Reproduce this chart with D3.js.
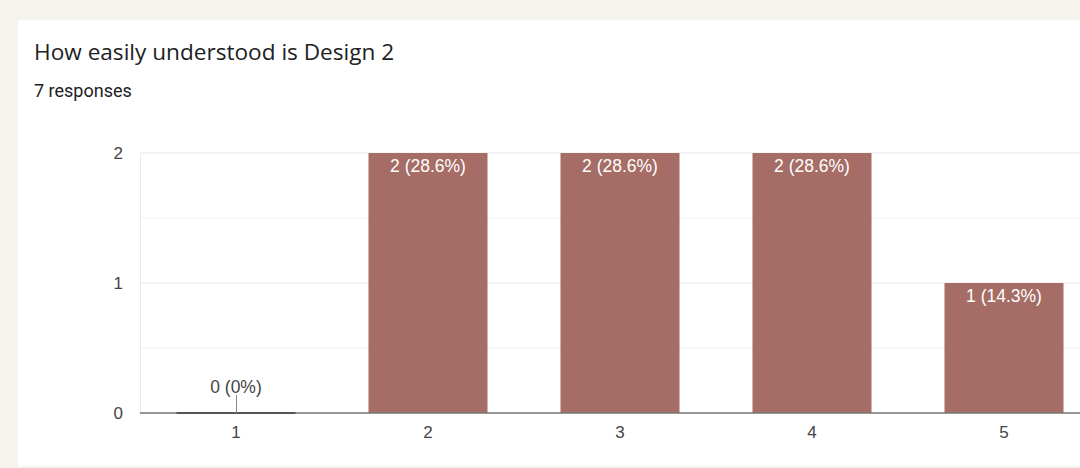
<!DOCTYPE html>
<html>
<head>
<meta charset="utf-8">
<script src="https://cdn.jsdelivr.net/npm/d3@7"></script>
<style>
  html, body { margin: 0; padding: 0; background: #f5f3ee; }
  svg { display: block; }
</style>
</head>
<body>
<svg id="chart" width="1080" height="468"></svg>
<script>
// Survey question: how easily understood is Design 2 (scale 1–5)
const title = "How easily understood is Design 2";
const subtitle = "7 responses";
const categories = ["1", "2", "3", "4", "5"];
const counts = [0, 2, 2, 2, 1];
const yTicks = [0, 1, 2];
const totalResponses = 7;

const svg = d3.select("#chart");

// White card
svg.append("rect")
  .attr("x", 18).attr("y", 20)
  .attr("width", 1100).attr("height", 446)
  .attr("fill", "#ffffff");

svg.append("text")
  .attr("x", 34).attr("y", 60)
  .attr("font-family", "'Open Sans', Roboto, sans-serif")
  .attr("font-size", 22.6)
  .attr("fill", "#202124")
  .text(title);

svg.append("text")
  .attr("x", 34).attr("y", 97)
  .attr("font-family", "Roboto, sans-serif")
  .attr("font-size", 18)
  .attr("fill", "#202124")
  .text(subtitle);

const x = d3.scaleBand()
  .domain(categories)
  .range([140, 1100])
  .paddingInner(0.38)
  .paddingOuter(0.19);

const y = d3.scaleLinear()
  .domain([0, 2])
  .range([413, 153]);

const font = "'Liberation Sans', Arial, sans-serif";

// Gridlines every half unit
const grid = d3.range(0, 2.01, 0.5);
svg.append("g").selectAll("line")
  .data(grid)
  .join("line")
  .attr("x1", 140).attr("x2", 1100)
  .attr("y1", d => y(d)).attr("y2", d => y(d))
  .attr("stroke", d => Number.isInteger(d) ? "#e8e8e8" : "#f1f1f1")
  .attr("stroke-width", 1);

// Left plot edge
svg.append("line")
  .attr("x1", 140.5).attr("x2", 140.5)
  .attr("y1", y(2)).attr("y2", y(0))
  .attr("stroke", "#ebebeb");

// Y axis labels
const yAxis = d3.axisLeft(y).tickValues(yTicks).tickFormat(d3.format("d")).tickSize(0).tickPadding(17);
svg.append("g")
  .attr("transform", "translate(140,0)")
  .call(yAxis)
  .call(g => g.select(".domain").remove())
  .selectAll("text")
  .attr("font-family", font)
  .attr("font-size", 17)
  .attr("fill", "#444");

// Bars
const color = "#a56d65";
svg.append("g").selectAll("rect")
  .data(counts)
  .join("rect")
  .attr("x", (d, i) => x(categories[i]))
  .attr("y", d => y(d))
  .attr("width", x.bandwidth())
  .attr("height", d => y(0) - y(d))
  .attr("fill", color);

// Baseline
svg.append("line")
  .attr("x1", 140).attr("x2", 1100)
  .attr("y1", y(0)).attr("y2", y(0))
  .attr("stroke", "#777")
  .attr("stroke-width", 1.5);

// Zero-height bars: darker stub on the baseline
counts.forEach((d, i) => {
  if (d === 0) {
    svg.append("line")
      .attr("x1", x(categories[i])).attr("x2", x(categories[i]) + x.bandwidth())
      .attr("y1", y(0)).attr("y2", y(0))
      .attr("stroke", "#555")
      .attr("stroke-width", 2);
  }
});

// X axis labels
const xAxis = d3.axisBottom(x).tickSize(0).tickPadding(13);
svg.append("g")
  .attr("transform", `translate(0,${y(0)})`)
  .call(xAxis)
  .call(g => g.select(".domain").remove())
  .selectAll("text")
  .attr("font-family", font)
  .attr("font-size", 17)
  .attr("fill", "#444");

// Value labels
const pct = d => `${d} (${d3.format(".1~f")(d / totalResponses * 100)}%)`;
counts.forEach((d, i) => {
  const cx = x(categories[i]) + x.bandwidth() / 2;
  if (d > 0) {
    svg.append("text")
      .attr("x", cx).attr("y", y(d) + 19)
      .attr("text-anchor", "middle")
      .attr("font-family", font)
      .attr("font-size", 17.5)
      .attr("fill", "#ffffff")
      .text(pct(d));
  } else {
    svg.append("line")
      .attr("x1", cx + 0.5).attr("x2", cx + 0.5)
      .attr("y1", y(0) - 18).attr("y2", y(0))
      .attr("stroke", "#888");
    svg.append("text")
      .attr("x", cx).attr("y", y(0) - 20)
      .attr("text-anchor", "middle")
      .attr("font-family", font)
      .attr("font-size", 17.5)
      .attr("fill", "#444")
      .text(`${d} (0%)`);
  }
});
</script>
</body>
</html>
